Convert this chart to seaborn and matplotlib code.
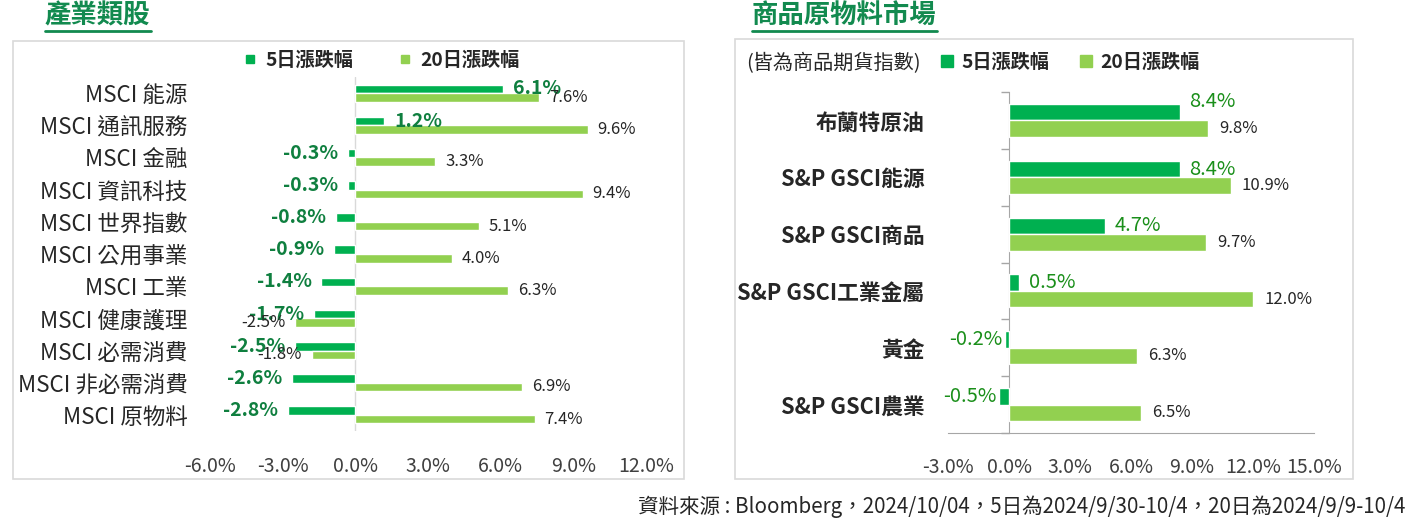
import numpy as np
import pandas as pd
import matplotlib
matplotlib.use("Agg")
import matplotlib.pyplot as plt
import seaborn as sns
from matplotlib.lines import Line2D
from matplotlib.patches import Rectangle
from matplotlib.ticker import FuncFormatter


# data
sector_names = ["MSCI 能源", "MSCI 通訊服務", "MSCI 金融", "MSCI 資訊科技", "MSCI 世界指數",
                "MSCI 公用事業", "MSCI 工業", "MSCI 健康護理", "MSCI 必需消費",
                "MSCI 非必需消費", "MSCI 原物料"]
sector_5d = [6.1, 1.2, -0.3, -0.3, -0.8, -0.9, -1.4, -1.7, -2.5, -2.6, -2.8]
sector_20d = [7.6, 9.6, 3.3, 9.4, 5.1, 4.0, 6.3, -2.5, -1.8, 6.9, 7.4]

commodity_names = ["布蘭特原油", "S&P GSCI能源", "S&P GSCI商品", "S&P GSCI工業金屬",
                   "黃金", "S&P GSCI農業"]
commodity_5d = [8.4, 8.4, 4.7, 0.5, -0.2, -0.5]
commodity_20d = [9.8, 10.9, 9.7, 12.0, 6.3, 6.5]

series_names = ["5日漲跌幅", "20日漲跌幅"]
sector_ticks = [-6, -3, 0, 3, 6, 9, 12]
commodity_ticks = [-3, 0, 3, 6, 9, 12, 15]

DARK = "#00b050"
LIGHT = "#92d050"
TEXT = "#262626"
W, H = 1411, 523

sns.set_style("white")
plt.rcParams["font.family"] = ["Noto Sans CJK TC", "DejaVu Sans"]


def long_df(names, v5, v20):
    return pd.DataFrame({"name": names * 2,
                         "series": [series_names[0]] * len(names) + [series_names[1]] * len(names),
                         "value": v5 + v20})


def box(x0, y0, x1, y1):
    # pixel box (top-left origin) -> figure fraction rect
    return [x0 / W, 1 - y1 / H, (x1 - x0) / W, (y1 - y0) / H]


pct = FuncFormatter(lambda v, _: f"{v:.1f}%")

fig = plt.figure(figsize=(W / 100, H / 100), dpi=100)

# panel frames
for x0, y0, x1, y1 in [(13, 41, 684, 479), (735, 39, 1353, 479)]:
    fig.add_artist(Rectangle((x0 / W, 1 - y1 / H), (x1 - x0) / W, (y1 - y0) / H,
                             transform=fig.transFigure, fill=False, ec="#d9d9d9", lw=1.2))

# ---------------- left: sectors
ax1 = fig.add_axes(box(210, 77, 646, 431))
sns.barplot(data=long_df(sector_names, sector_5d, sector_20d), x="value", y="name",
            hue="series", hue_order=series_names, palette=[DARK, LIGHT], orient="h",
            width=0.53, saturation=1, errorbar=None, legend=False, ax=ax1)
ax1.set_xlim(-6, 12)
ax1.set_xticks(sector_ticks)
ax1.xaxis.set_major_formatter(pct)
ax1.axvline(0, color="#d9d9d9", lw=1, zorder=0)
for s in ax1.spines.values():
    s.set_visible(False)
ax1.set_xlabel("")
ax1.set_ylabel("")
ax1.tick_params(axis="x", length=0, pad=18, labelsize=14, labelcolor="#404040")
ax1.tick_params(axis="y", length=0, pad=16, labelsize=16.2, labelcolor=TEXT)
for t in ax1.get_yticklabels():
    t.set_fontweight("medium")

ax1.bar_label(ax1.containers[0], labels=[f"{v:.1f}%" for v in sector_5d], padding=7,
              color="#0f7f3f", fontsize=14, fontweight="bold")
ax1.bar_label(ax1.containers[1], labels=[f"{v:.1f}%" for v in sector_20d], padding=7,
              color=TEXT, fontsize=12)

# ---------------- right: commodities
ax2 = fig.add_axes(box(948, 92, 1314, 433))
sns.barplot(data=long_df(commodity_names, commodity_5d, commodity_20d), x="value", y="name",
            hue="series", hue_order=series_names, palette=[DARK, LIGHT], orient="h",
            width=0.58, saturation=1, errorbar=None, legend=False, ax=ax2)
ax2.set_xlim(-3, 15)
ax2.set_xticks(commodity_ticks)
ax2.xaxis.set_major_formatter(pct)
for side in ["top", "right", "left"]:
    ax2.spines[side].set_visible(False)
ax2.spines["bottom"].set_color("#a6a6a6")
ax2.set_xlabel("")
ax2.set_ylabel("")
ax2.tick_params(axis="x", length=7, width=1, color="#a6a6a6", pad=10, labelsize=14,
                labelcolor="#404040")
ax2.tick_params(axis="y", length=0, pad=17, labelsize=15.7, labelcolor=TEXT)
for t in ax2.get_yticklabels():
    t.set_fontweight("bold")

# category axis crosses at 0%
x0 = (0 - ax2.get_xlim()[0]) / (ax2.get_xlim()[1] - ax2.get_xlim()[0])
sec = ax2.secondary_yaxis(x0)
sec.set_yticks(np.arange(len(commodity_names) + 1) - 0.5)
sec.tick_params(length=6, width=1, color="#a6a6a6", labelleft=False)
sec.spines["left"].set_color("#a6a6a6")

lab5 = ax2.bar_label(ax2.containers[0], labels=[f"{v:.1f}%" for v in commodity_5d], padding=7,
                     color="#1a8f1a", fontsize=14.5)
for ann, v in zip(lab5, commodity_5d):
    if v < 0:
        ann.xyann = (-2, 0)
lab5[0].xyann = (lab5[0].xyann[0], 8)
ax2.bar_label(ax2.containers[1], labels=[f"{v:.1f}%" for v in commodity_20d], padding=8,
              color=TEXT, fontsize=12)

# ---------------- legends, titles, notes
def handles(ms):
    return [Line2D([], [], marker="s", ls="", color=c, markersize=ms) for c in [DARK, LIGHT]]


leg1 = fig.legend(handles(6), series_names, loc="center left", bbox_to_anchor=(244 / W, 1 - 60 / H),
                  ncol=2, frameon=False, borderpad=0, borderaxespad=0, handlelength=0.6,
                  handletextpad=0.5, columnspacing=2.4, prop={"size": 13.8, "weight": "bold"})
leg2 = fig.legend(handles(9), series_names, loc="center left", bbox_to_anchor=(940 / W, 1 - 62 / H),
                  ncol=2, frameon=False, borderpad=0, borderaxespad=0, handlelength=0.7,
                  handletextpad=0.4, columnspacing=1.6, prop={"size": 13.8, "weight": "bold"})
for leg in (leg1, leg2):
    for t in leg.get_texts():
        t.set_color(TEXT)

fig.text(746 / W, 1 - 64 / H, "(皆為商品期貨指數)", fontsize=14.5, color=TEXT, va="center")

titles = []
for x, s in [(45, "產業類股"), (752, "商品原物料市場")]:
    titles.append(fig.text(x / W, 1 - 16 / H, s, fontsize=19, fontweight="bold",
                           color="#128a4f", va="center"))

fig.text(1405 / W, 1 - 507 / H,
         "資料來源 : Bloomberg，2024/10/04，5日為2024/9/30-10/4，20日為2024/9/9-10/4",
         fontsize=14.8, color=TEXT, ha="right", va="center")

# underline under the two titles
fig.canvas.draw()
r = fig.canvas.get_renderer()
for t in titles:
    bb = t.get_window_extent(r)
    fig.add_artist(Line2D([bb.x0 / W, bb.x1 / W], [1 - 31 / H, 1 - 31 / H],
                          transform=fig.transFigure, color="#128a4f", lw=2))

fig.savefig("out.png", dpi=100)
